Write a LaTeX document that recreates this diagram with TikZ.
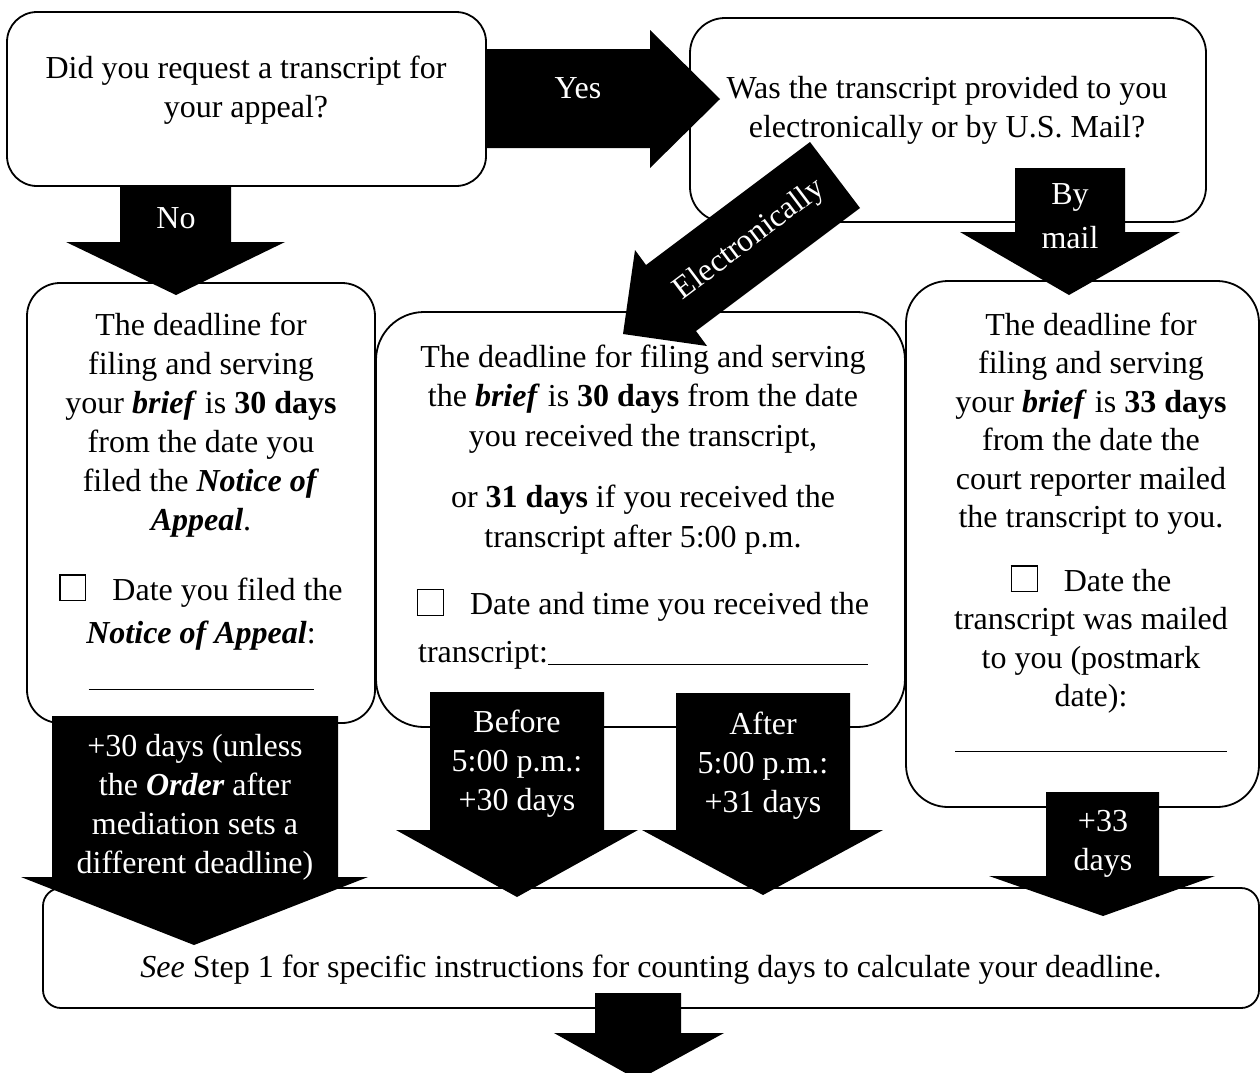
\documentclass[tikz,border=0pt]{standalone}
\usepackage{fontspec}
\setmainfont{Liberation Serif}
\usetikzlibrary{fit}
\newcommand{\chkbox}{{\setlength{\fboxsep}{0pt}\setlength{\fboxrule}{1.3pt}\fbox{\rule{0pt}{24.5pt}\hspace{24.5pt}}}}
\newcommand{\blank}[1]{\rule[-3pt]{#1}{1pt}}
\newcommand{\blkdown}[8]{%
  \fill[arr] (#1,#3) -- (#2,#3) -- (#2,#4) -- (#6,#4) -- (#7,#8) -- (#5,#4) -- (#1,#4) -- cycle;}
\begin{document}
\begin{tikzpicture}[x=1pt,y=-1pt,
  box/.style={draw=black,line width=1.8pt,fill=white,inner sep=0pt},
  arr/.style={fill=black,draw=none},
  txt/.style={inner sep=0pt,anchor=base,align=center,font=\fontsize{32}{39}\selectfont},
  wtxt/.style={txt,text=white}]
\useasboundingbox (0,0) rectangle (1260,1072);
\clip (0,0) rectangle (1260,1072);
\fill[white] (0,0) rectangle (1260,1072);

% boxes
\node[box,rounded corners=30pt,fit={(7,12) (486,186)}] (qa) {};
\node[box,rounded corners=35pt,fit={(690,18) (1206,222)}] (qb) {};
\node[box,rounded corners=33pt,fit={(27,283) (375,723)}] (bc) {};
\node[box,rounded corners=48pt,fit={(376,312) (905,727)}] (bd) {};
\node[box,rounded corners=42pt,fit={(906,281) (1259,807)}] (be) {};
\node[box,rounded corners=18pt,fit={(43,888) (1259,1008)}] (bf) {};

% box texts (anchor = baseline of last line)
\node[txt] (qat) at (246,117) {Did you request a transcript for\\your appeal?};
\node[txt] (qbt) at (947,137) {Was the transcript provided to you\\electronically or by U.S. Mail?};
\node[txt] (ct) at (201,687) {The deadline for\\filing and serving\\your \textbf{\textit{brief}} is \textbf{30 days}\\from the date you\\filed the \textbf{\textit{Notice of}}\\\textbf{\textit{Appeal}}.\\[31pt]\chkbox\hspace{26pt}Date you filed the\\[4pt]\textbf{\textit{Notice of Appeal}}:\\[5pt]\blank{225pt}};
\node[txt,font=\fontsize{32}{39.5}\selectfont] (dt) at (643,662) {The deadline for filing and serving\\the \textbf{\textit{brief}} is \textbf{30 days} from the date\\you received the transcript,\\[22pt]or \textbf{31 days} if you received the\\transcript after 5:00 p.m.\\[28pt]\chkbox\hspace{26pt}Date and time you received the\\[8pt]transcript:\blank{320pt}};
\node[txt,font=\fontsize{32}{38.5}\selectfont] (et) at (1091,749) {The deadline for\\filing and serving\\your \textbf{\textit{brief}} is \textbf{33 days}\\from the date the\\court reporter mailed\\the transcript to you.\\[25pt]\chkbox\hspace{26pt}Date the\\transcript was mailed\\to you (postmark\\date):\\[4pt]\blank{272pt}};
\node[txt] (ft) at (651,977) {\textit{See} Step 1 for specific instructions for counting days to calculate your deadline.};

% block arrows
% Yes (right)
\fill[arr] (486,49) -- (650,49) -- (650,30) -- (720,99) -- (650,168) -- (650,148) -- (486,148) -- cycle;
% Electronically (diagonal)
\fill[arr] (810,142) -- (646,265) -- (635,250) -- (623,334) -- (707,346) -- (696,331) -- (860,208) -- cycle;
% No
\blkdown{120}{231}{187}{242}{66}{285}{176}{295}
% By mail
\blkdown{1015}{1125}{168}{232}{960}{1180}{1069}{295}
% +30 days
\blkdown{52}{338}{716}{877}{21}{368}{194}{945}
% Before
\blkdown{430}{604}{692}{830}{396}{638}{517}{897}
% After
\blkdown{676}{850}{693}{830}{642}{883}{763}{895}
% +33
\blkdown{1046}{1159}{792}{876}{989}{1215}{1103}{916}
% bottom
\blkdown{595}{681}{993}{1033}{554}{724}{638}{1080}

% arrow labels
\node[wtxt] (yesl) at (578,98) {Yes};
\node[wtxt] (nol) at (176,228) {No};
\node[wtxt,font=\fontsize{32}{44}\selectfont] (mail) at (1070,248) {By\\mail};
\node[wtxt,anchor=center,rotate=37] (elec) at (750,240) {Electronically};
\node[wtxt,font=\fontsize{32}{38.7}\selectfont] (p30) at (195,873) {+30 days (unless\\the \textbf{\textit{Order}} after\\mediation sets a\\different deadline)};
\node[wtxt] (bef) at (517,810) {Before\\5:00 p.m.:\\+30 days};
\node[wtxt] (aft) at (763,812) {After\\5:00 p.m.:\\+31 days};
\node[wtxt] (p33) at (1103,870) {+33\\days};
\end{tikzpicture}
\end{document}
